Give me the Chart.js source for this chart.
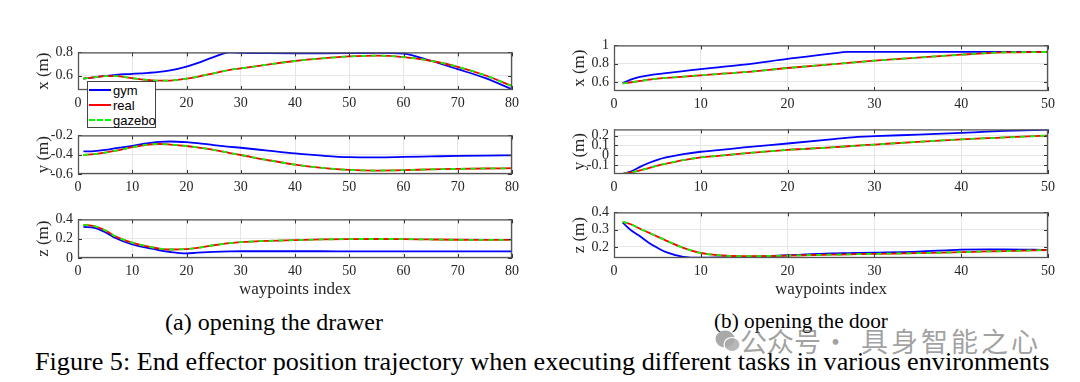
<!DOCTYPE html>
<html>
<head>
<meta charset="utf-8">
<script src="https://cdn.jsdelivr.net/npm/chart.js@4.4.0/dist/chart.umd.min.js"></script>
<style>
  body { margin: 0; background: #fff; }
  #fig { position: relative; width: 1080px; height: 382px; overflow: hidden; background: #fff; }
  #fig canvas { position: absolute; }
  .legend { position: absolute; left: 87px; top: 81px; width: 69px; height: 47px; box-sizing: border-box;
            background: #fff; border: 1px solid #444; z-index: 5;
            font-family: "Liberation Sans", Arial, sans-serif; font-size: 13px; color: #000; }
  .legend .row { position: absolute; left: 1px; width: 66px; height: 15px; line-height: 15px; }
  .legend .swatch { position: absolute; left: 0; top: 6px; width: 22px; height: 0; border-top: 2px solid; }
  .legend .lbl { position: absolute; left: 24px; top: 0; }
  .cap { position: absolute; font-family: "Liberation Serif", "Times New Roman", serif; color: #000; white-space: nowrap; }
  .wm { position: absolute; font-family: "Noto Sans CJK SC", sans-serif; color: rgba(120,120,120,0.7); white-space: nowrap; z-index: 6; }
</style>
</head>
<body>
<div id="fig">
  <div class="legend">
    <div class="row" style="top:1px"><span class="swatch" style="border-top-color:#0000ff"></span><span class="lbl">gym</span></div>
    <div class="row" style="top:16px"><span class="swatch" style="border-top-color:#ff0000"></span><span class="lbl">real</span></div>
    <div class="row" style="top:31px"><span class="swatch" style="border-top:2px dashed #00ff00"></span><span class="lbl">gazebo</span></div>
  </div>
  <div class="cap" id="capA">(a) opening the drawer</div>
  <div class="cap" id="capB">(b) opening the door</div>
  <div class="cap" id="capFig">Figure 5: End effector position trajectory when executing different tasks in various environments</div>
  <svg class="wm" style="left:715px;top:329px" width="26" height="24" viewBox="0 0 26 24">
    <ellipse cx="10" cy="10" rx="9.5" ry="8.5" fill="rgba(140,140,140,0.75)"/>
    <ellipse cx="17" cy="15.5" rx="8" ry="7" fill="rgba(170,170,170,0.85)" stroke="#fff" stroke-width="1.2"/>
  </svg>
  <div class="wm" style="left:740px;top:326px;font-size:27px;line-height:30px">公众号</div>
  <div class="wm" style="left:822px;top:326px;font-size:27px;line-height:30px">·</div>
  <div class="wm" style="left:861px;top:326px;font-size:27px;line-height:30px;letter-spacing:3px">具身智能之心</div>
</div>
<script>
const gymColor = '#0000ff';
const realColor = '#ff0000';
const gazeboColor = '#00ff00';

// (a) opening the drawer
const drawerWaypoints = [1, 3, 5, 7, 10, 13, 15, 17, 20, 22, 25, 28, 30, 35, 40, 45, 50, 55, 60, 65, 70, 75, 80];
const drawerXGym    = [0.574, 0.585, 0.597, 0.607, 0.615, 0.624, 0.632, 0.645, 0.678, 0.708, 0.760, 0.800, 0.796, 0.793, 0.792, 0.792, 0.793, 0.797, 0.790, 0.728, 0.655, 0.580, 0.482];
const drawerXReal   = [0.574, 0.585, 0.595, 0.596, 0.578, 0.562, 0.556, 0.557, 0.574, 0.590, 0.620, 0.650, 0.662, 0.695, 0.726, 0.748, 0.765, 0.772, 0.760, 0.728, 0.676, 0.603, 0.510];
const drawerXGazebo = [0.574, 0.585, 0.595, 0.596, 0.578, 0.562, 0.556, 0.557, 0.574, 0.590, 0.620, 0.650, 0.662, 0.695, 0.726, 0.748, 0.765, 0.772, 0.760, 0.728, 0.676, 0.603, 0.510];
const drawerYGym    = [-0.366, -0.362, -0.350, -0.333, -0.308, -0.280, -0.268, -0.263, -0.270, -0.280, -0.300, -0.318, -0.328, -0.358, -0.387, -0.410, -0.425, -0.427, -0.423, -0.418, -0.413, -0.409, -0.406];
const drawerYReal   = [-0.403, -0.393, -0.378, -0.358, -0.322, -0.295, -0.289, -0.295, -0.310, -0.325, -0.350, -0.383, -0.403, -0.456, -0.503, -0.536, -0.558, -0.564, -0.560, -0.552, -0.547, -0.543, -0.540];
const drawerYGazebo = [-0.403, -0.393, -0.378, -0.358, -0.322, -0.295, -0.289, -0.295, -0.310, -0.325, -0.350, -0.383, -0.403, -0.456, -0.503, -0.536, -0.558, -0.564, -0.560, -0.552, -0.547, -0.543, -0.540];
const drawerZGym    = [0.322, 0.312, 0.268, 0.205, 0.140, 0.103, 0.080, 0.062, 0.048, 0.055, 0.063, 0.068, 0.070, 0.070, 0.070, 0.070, 0.069, 0.069, 0.068, 0.068, 0.068, 0.068, 0.068];
const drawerZReal   = [0.344, 0.330, 0.286, 0.222, 0.160, 0.118, 0.098, 0.088, 0.093, 0.105, 0.132, 0.155, 0.165, 0.178, 0.185, 0.192, 0.196, 0.197, 0.196, 0.192, 0.189, 0.188, 0.188];
const drawerZGazebo = [0.344, 0.330, 0.286, 0.222, 0.160, 0.118, 0.098, 0.088, 0.093, 0.105, 0.132, 0.155, 0.165, 0.178, 0.185, 0.192, 0.196, 0.197, 0.196, 0.192, 0.189, 0.188, 0.188];
const drawerIndexTicks = [0, 10, 20, 30, 40, 50, 60, 70, 80];
const drawerXTicks = [0.6, 0.8];
const drawerYTicks = [-0.6, -0.4, -0.2];
const drawerZTicks = [0, 0.2, 0.4];

// (b) opening the door
const doorWaypoints = [1, 2, 3, 4, 5, 6, 8, 10, 12, 15, 20, 25, 27, 30, 35, 40, 43, 45, 50];
const doorXGym    = [0.586, 0.628, 0.655, 0.672, 0.686, 0.697, 0.718, 0.740, 0.760, 0.790, 0.852, 0.910, 0.928, 0.930, 0.930, 0.930, 0.930, 0.930, 0.930];
const doorXReal   = [0.583, 0.596, 0.610, 0.624, 0.636, 0.643, 0.658, 0.672, 0.686, 0.707, 0.752, 0.793, 0.808, 0.832, 0.866, 0.898, 0.916, 0.923, 0.928];
const doorXGazebo = [0.583, 0.596, 0.610, 0.624, 0.636, 0.643, 0.658, 0.672, 0.686, 0.707, 0.752, 0.793, 0.808, 0.832, 0.866, 0.898, 0.916, 0.923, 0.928];
const doorYGym    = [-0.190, -0.162, -0.118, -0.078, -0.046, -0.022, 0.012, 0.036, 0.052, 0.080, 0.120, 0.162, 0.180, 0.194, 0.210, 0.228, 0.240, 0.247, 0.260];
const doorYReal   = [-0.190, -0.172, -0.153, -0.130, -0.106, -0.085, -0.048, -0.021, -0.005, 0.020, 0.055, 0.080, 0.092, 0.109, 0.137, 0.162, 0.174, 0.181, 0.200];
const doorYGazebo = [-0.190, -0.172, -0.153, -0.130, -0.106, -0.085, -0.048, -0.021, -0.005, 0.020, 0.055, 0.080, 0.092, 0.109, 0.137, 0.162, 0.174, 0.181, 0.200];
const doorZGym    = [0.341, 0.295, 0.262, 0.225, 0.195, 0.170, 0.143, 0.138, 0.139, 0.142, 0.152, 0.162, 0.164, 0.167, 0.173, 0.184, 0.186, 0.186, 0.182];
const doorZReal   = [0.345, 0.330, 0.305, 0.283, 0.260, 0.237, 0.195, 0.165, 0.152, 0.146, 0.150, 0.155, 0.157, 0.160, 0.164, 0.170, 0.174, 0.176, 0.182];
const doorZGazebo = [0.345, 0.330, 0.305, 0.283, 0.260, 0.237, 0.195, 0.165, 0.152, 0.146, 0.150, 0.155, 0.157, 0.160, 0.164, 0.170, 0.174, 0.176, 0.182];
const doorIndexTicks = [0, 10, 20, 30, 40, 50];
const doorXTicks = [0.6, 0.8, 1];
const doorYTicks = [-0.1, 0, 0.1, 0.2];
const doorZTicks = [0.2, 0.3, 0.4];

const serif = '"Liberation Serif", "Times New Roman", serif';
Chart.defaults.font.family = serif;
Chart.defaults.font.size = 14;
Chart.defaults.color = '#262626';

const fig = document.getElementById('fig');

// matlab style box round the axes, with small ticks pointing inwards
const boxPlugin = {
  id: 'matlabBox',
  afterDraw(chart) {
    const { ctx, chartArea: a, scales: { x, y } } = chart;
    ctx.save();
    ctx.strokeStyle = '#333';
    ctx.lineWidth = 1;
    ctx.beginPath();
    x.ticks.forEach(t => {
      const px = Math.round(x.getPixelForValue(t.value)) + 0.5;
      ctx.moveTo(px, a.bottom); ctx.lineTo(px, a.bottom - 4);
      ctx.moveTo(px, a.top); ctx.lineTo(px, a.top + 4);
    });
    y.ticks.forEach(t => {
      const py = Math.round(y.getPixelForValue(t.value)) + 0.5;
      ctx.moveTo(a.left, py); ctx.lineTo(a.left + 4, py);
      ctx.moveTo(a.right, py); ctx.lineTo(a.right - 4, py);
    });
    ctx.stroke();
    ctx.strokeStyle = '#555';
    ctx.lineWidth = 1.3;
    ctx.strokeRect(a.left + 0.5, a.top + 0.5, a.right - a.left - 1, a.bottom - a.top - 1);
    ctx.restore();
  }
};

function pts(xs, ys) {
  return xs.map((v, i) => ({ x: v, y: ys[i] }));
}

function fmt(v) {
  return String(Math.round(v * 100) / 100);
}

function makePlot(p) {
  const yW = 48, padTop = 10, padRight = 14;
  const xH = p.xTitle ? 42 : 24;
  const cv = document.createElement('canvas');
  cv.width = p.w + yW + padRight;
  cv.height = p.h + padTop + xH;
  cv.style.left = (p.left - yW) + 'px';
  cv.style.top = (p.top - padTop) + 'px';
  fig.appendChild(cv);

  new Chart(cv, {
    type: 'line',
    data: {
      datasets: [
        { label: 'gym', data: pts(p.xs, p.gym), borderColor: gymColor, order: 2 },
        { label: 'real', data: pts(p.xs, p.real), borderColor: realColor, order: 1 },
        { label: 'gazebo', data: pts(p.xs, p.gazebo), borderColor: gazeboColor, borderDash: [5, 5], order: 0 }
      ]
    },
    options: {
      responsive: false,
      animation: false,
      layout: { padding: { top: padTop, right: padRight, left: 0, bottom: 0 } },
      elements: {
        point: { radius: 0 },
        line: { borderWidth: 1.8, tension: 0, cubicInterpolationMode: 'monotone', fill: false }
      },
      plugins: { legend: { display: false }, tooltip: { enabled: false } },
      scales: {
        x: {
          type: 'linear',
          min: 0,
          max: p.xMax,
          afterBuildTicks: s => { s.ticks = p.xTicks.map(v => ({ value: v })); },
          afterFit: s => { s.height = xH; },
          grid: { color: '#e6e6e6', drawTicks: false },
          border: { display: false },
          ticks: { padding: 5, autoSkip: false, maxRotation: 0, callback: fmt,
                   font: { family: serif, size: 14 } },
          title: {
            display: !!p.xTitle,
            text: p.xTitle || '',
            font: { family: serif, size: 17 },
            padding: { top: 0, bottom: 0 }
          }
        },
        y: {
          min: p.yMin,
          max: p.yMax,
          afterBuildTicks: s => { s.ticks = p.yTicks.map(v => ({ value: v })); },
          afterFit: s => { s.width = yW; },
          grid: { color: '#e6e6e6', drawTicks: false },
          border: { display: false },
          ticks: { padding: 5, autoSkip: false, callback: fmt,
                   font: { family: serif, size: 14 } },
          title: {
            display: true,
            text: p.yTitle,
            font: { family: serif, size: 17 },
            padding: { top: 3, bottom: 0 }
          }
        }
      }
    },
    plugins: [boxPlugin]
  });
}

makePlot({ left: 78, top: 49, w: 434, h: 41, xs: drawerWaypoints, gym: drawerXGym, real: drawerXReal, gazebo: drawerXGazebo,
  xMax: 80, xTicks: drawerIndexTicks, yMin: 0.476, yMax: 0.8, yTicks: drawerXTicks, yTitle: 'x (m)' });
makePlot({ left: 78, top: 132, w: 434, h: 42, xs: drawerWaypoints, gym: drawerYGym, real: drawerYReal, gazebo: drawerYGazebo,
  xMax: 80, xTicks: drawerIndexTicks, yMin: -0.6, yMax: -0.2, yTicks: drawerYTicks, yTitle: 'y (m)' });
makePlot({ left: 78, top: 216, w: 434, h: 42, xs: drawerWaypoints, gym: drawerZGym, real: drawerZReal, gazebo: drawerZGazebo,
  xMax: 80, xTicks: drawerIndexTicks, yMin: 0, yMax: 0.4, yTicks: drawerZTicks, yTitle: 'z (m)', xTitle: 'waypoints index' });

makePlot({ left: 614, top: 42, w: 434, h: 49, xs: doorWaypoints, gym: doorXGym, real: doorXReal, gazebo: doorXGazebo,
  xMax: 50, xTicks: doorIndexTicks, yMin: 0.5, yMax: 1, yTicks: doorXTicks, yTitle: 'x (m)' });
makePlot({ left: 614, top: 126, w: 434, h: 48, xs: doorWaypoints, gym: doorYGym, real: doorYReal, gazebo: doorYGazebo,
  xMax: 50, xTicks: doorIndexTicks, yMin: -0.19, yMax: 0.263, yTicks: doorYTicks, yTitle: 'y (m)' });
makePlot({ left: 614, top: 209, w: 434, h: 49, xs: doorWaypoints, gym: doorZGym, real: doorZReal, gazebo: doorZGazebo,
  xMax: 50, xTicks: doorIndexTicks, yMin: 0.136, yMax: 0.4, yTicks: doorZTicks, yTitle: 'z (m)', xTitle: 'waypoints index' });

// place the captions so they fill the same width as in the figure
function fitText(id, left, width, cy, base) {
  const el = document.getElementById(id);
  el.style.fontSize = base + 'px';
  const w = el.getBoundingClientRect().width;
  const fs = base * width / w;
  el.style.fontSize = fs + 'px';
  el.style.lineHeight = fs + 'px';
  el.style.left = left + 'px';
  el.style.top = (cy - fs / 2) + 'px';
}
fitText('capA', 165, 218, 322, 20);
fitText('capB', 714, 174, 322, 20);
fitText('capFig', 35, 1015, 362, 24);
</script>
</body>
</html>
